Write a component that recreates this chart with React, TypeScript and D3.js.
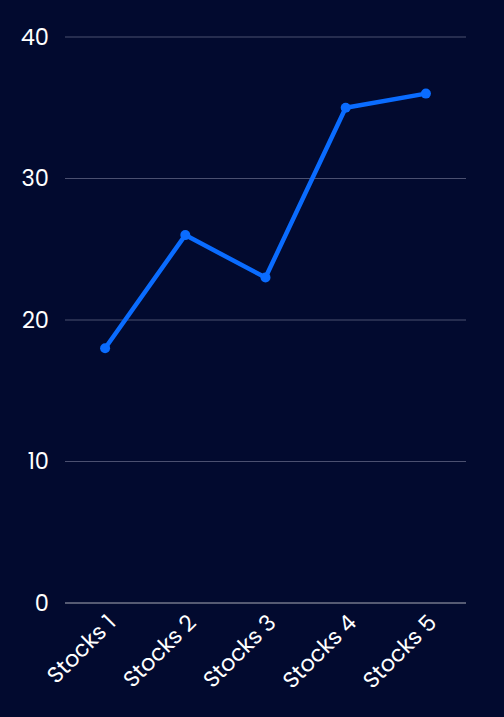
import React from "react";
import * as d3 from "d3";

const categories = ["Stocks 1", "Stocks 2", "Stocks 3", "Stocks 4", "Stocks 5"];
const values = [18, 26, 23, 35, 36];
const yTicks = [0, 10, 20, 30, 40];

export default function App() {
  const W = 504, H = 717;
  const left = 65, right = 466, top = 37, bottom = 603;
  const x = d3.scaleBand<string>().domain(categories).range([left, right]);
  const y = d3.scaleLinear().domain([0, 40]).range([bottom, top]);
  const cx = (c: string) => (x(c) ?? 0) + x.bandwidth() / 2;
  const line = d3.line<number>().x((_, i) => cx(categories[i])).y((d) => y(d));
  const font = "Poppins, Inter, 'Noto Sans', sans-serif";
  return (
    <div style={{ position: "fixed", left: 0, top: 0, width: W, height: H, background: "#020a2f" }}>
      <svg width={W} height={H} style={{ display: "block" }}>
        <rect width={W} height={H} fill="#020a2f" />
        {yTicks.map((t) => (
          <g key={t}>
            <line x1={left} x2={right} y1={y(t)} y2={y(t)} stroke={t === 0 ? "#a9abb8" : "#4b5070"} strokeWidth={1} />
            <text x={49} y={y(t)} dy="0.35em" textAnchor="end" fill="#ffffff" fontSize={22.5} fontFamily={font}>{t}</text>
          </g>
        ))}
        {categories.map((c) => (
          <text key={c} transform={`translate(${cx(c) + 12},${bottom + 21}) rotate(-45)`} textAnchor="end" fill="#ffffff" fontSize={22.5} fontFamily={font}>{c}</text>
        ))}
        <path d={line(values) ?? ""} fill="none" stroke="#0a6cff" strokeWidth={4.5} strokeLinejoin="round" strokeLinecap="round" />
        {values.map((v, i) => (
          <circle key={i} cx={cx(categories[i])} cy={y(v)} r={5} fill="#0a6cff" />
        ))}
      </svg>
    </div>
  );
}
